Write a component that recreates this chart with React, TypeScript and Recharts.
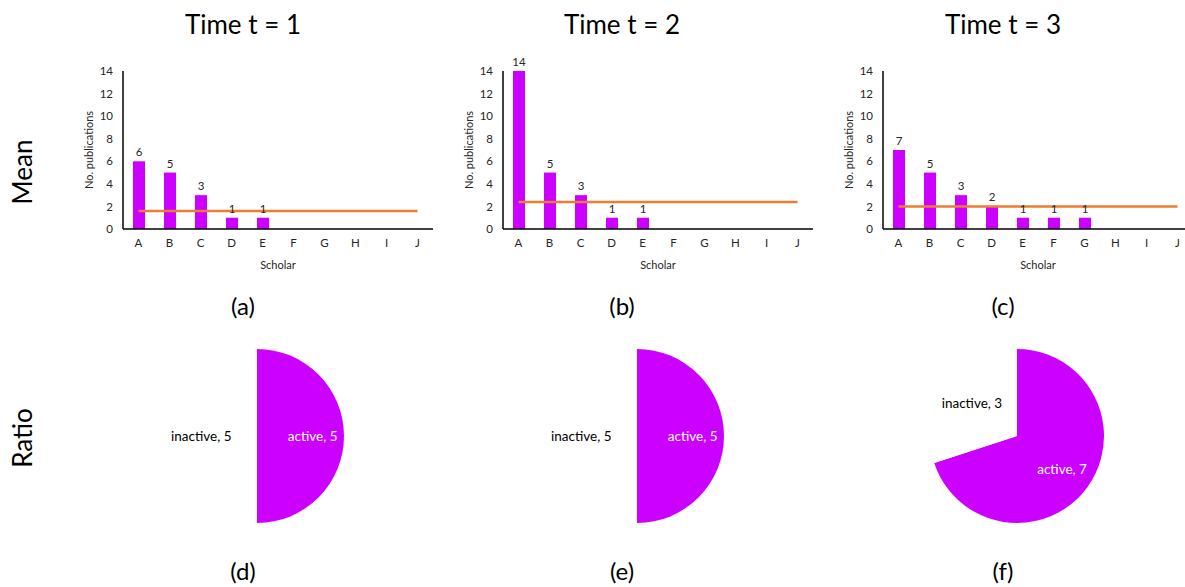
import React from 'react';
import { ComposedChart, Bar, Line, XAxis, YAxis, LabelList, PieChart, Pie, Cell } from 'recharts';

const categories = ['A', 'B', 'C', 'D', 'E', 'F', 'G', 'H', 'I', 'J'];
const pubsT1 = [6, 5, 3, 1, 1, 0, 0, 0, 0, 0];
const pubsT2 = [14, 5, 3, 1, 1, 0, 0, 0, 0, 0];
const pubsT3 = [7, 5, 3, 2, 1, 1, 1, 0, 0, 0];
const meanT1 = 1.6;
const meanT2 = 2.4;
const meanT3 = 2.0;
const yTicks = [0, 2, 4, 6, 8, 10, 12, 14];
const activeCounts = [5, 5, 7];
const inactiveCounts = [5, 5, 3];
const titles = ['Time t = 1', 'Time t = 2', 'Time t = 3'];
const barPanelLabels = ['(a)', '(b)', '(c)'];
const piePanelLabels = ['(d)', '(e)', '(f)'];
const rowLabels = ['Mean', 'Ratio'];

const FONT = 'Lato, "Open Sans", sans-serif';
const PURPLE = '#CC00FF';
const ORANGE = '#ED7D31';
const TEXT = '#262626';

const colCenters = [243, 622, 1003];
const barLefts = [60, 440, 820];
const pieCenters = [257, 637, 1017];

function BarPanel({ values, mean, left, top }: { values: number[]; mean: number; left: number; top: number }) {
  const data = categories.map((c, i) => ({ name: c, pubs: values[i], mean }));
  return (
    <div style={{ position: 'absolute', left, top }}>
      <ComposedChart width={385} height={230} data={data} margin={{ top: 16, right: 12, bottom: 16, left: 0 }}>
        <XAxis
          dataKey="name"
          tickLine={false}
          axisLine={{ stroke: '#000', strokeWidth: 1.5 }}
          tick={{ fontSize: 11.5, fill: TEXT, fontFamily: FONT }}
          tickMargin={4}
          height={40}
          interval={0}
          label={(p: any) => {
            const vb = p.viewBox;
            return (
              <text x={vb.x + vb.width / 2} y={vb.y + 35} textAnchor="middle" dominantBaseline="central" fontSize={11} fill={TEXT} fontFamily={FONT}>
                Scholar
              </text>
            );
          }}
        />
        <YAxis
          domain={[0, 14]}
          ticks={yTicks}
          width={63}
          tickLine={false}
          axisLine={{ stroke: '#000', strokeWidth: 1.5 }}
          tick={{ fontSize: 11.5, fill: TEXT, fontFamily: FONT }}
          tickMargin={4}
          interval={0}
          label={(p: any) => {
            const vb = p.viewBox;
            const x = vb.x + 28;
            const y = vb.y + vb.height / 2;
            return (
              <text x={x} y={y} transform={`rotate(-90 ${x} ${y})`} textAnchor="middle" dominantBaseline="central" fontSize={11} fill={TEXT} fontFamily={FONT}>
                No. publications
              </text>
            );
          }}
        />
        <Bar dataKey="pubs" fill={PURPLE} barSize={12} isAnimationActive={false}>
          <LabelList
            dataKey="pubs"
            position="top"
            formatter={(v: any) => (v ? v : '')}
            style={{ fontSize: 11.5, fill: TEXT, fontFamily: FONT }}
          />
        </Bar>
        <Line dataKey="mean" stroke={ORANGE} strokeWidth={2.5} dot={false} activeDot={false} isAnimationActive={false} />
      </ComposedChart>
    </div>
  );
}

const RADIAN = Math.PI / 180;

function RatioPie({ active, inactive, cx }: { active: number; inactive: number; cx: number }) {
  const data = [
    { name: 'active', value: active },
    { name: 'inactive', value: inactive },
  ];
  const renderLabel = (p: any) => {
    const r = p.outerRadius * 0.64;
    const x = p.cx + r * Math.cos(-p.midAngle * RADIAN);
    const y = p.cy + r * Math.sin(-p.midAngle * RADIAN);
    return (
      <text x={x} y={y} textAnchor="middle" dominantBaseline="central" fontSize={13.5} fontFamily={FONT} fill={p.name === 'active' ? '#fff' : '#000'}>
        {`${p.name}, ${p.value}`}
      </text>
    );
  };
  return (
    <div style={{ position: 'absolute', left: cx - 120, top: 336 }}>
      <PieChart width={240} height={200} margin={{ top: 0, right: 0, bottom: 0, left: 0 }}>
        <Pie
          data={data}
          dataKey="value"
          nameKey="name"
          cx={120}
          cy={100}
          outerRadius={87}
          startAngle={90}
          endAngle={-270}
          stroke="none"
          label={renderLabel}
          labelLine={false}
          isAnimationActive={false}
        >
          <Cell fill={PURPLE} />
          <Cell fill="#ffffff" />
        </Pie>
      </PieChart>
    </div>
  );
}

export default function App() {
  const pubs = [pubsT1, pubsT2, pubsT3];
  const means = [meanT1, meanT2, meanT3];
  return (
    <div style={{ position: 'absolute', left: 0, top: 0, width: 1185, height: 587, overflow: 'hidden', background: '#fff', fontFamily: FONT }}>
      {pubs.map((v, i) => (
        <BarPanel key={i} values={v} mean={means[i]} left={barLefts[i]} top={55} />
      ))}
      {activeCounts.map((a, i) => (
        <RatioPie key={i} active={a} inactive={inactiveCounts[i]} cx={pieCenters[i]} />
      ))}
      <svg width={1185} height={587} style={{ position: 'absolute', left: 0, top: 0, pointerEvents: 'none' }}>
        {titles.map((t, i) => (
          <text key={t} x={colCenters[i]} y={24} textAnchor="middle" dominantBaseline="central" fontSize={26} fontFamily={FONT} fill="#000">
            {t}
          </text>
        ))}
        {barPanelLabels.map((t, i) => (
          <text key={t} x={colCenters[i]} y={305} textAnchor="middle" dominantBaseline="central" fontSize={24} fontFamily={FONT} fill="#000">
            {t}
          </text>
        ))}
        {piePanelLabels.map((t, i) => (
          <text key={t} x={colCenters[i]} y={570} textAnchor="middle" dominantBaseline="central" fontSize={24} fontFamily={FONT} fill="#000">
            {t}
          </text>
        ))}
        <text x={22} y={172} transform="rotate(-90 22 172)" textAnchor="middle" dominantBaseline="central" fontSize={26} fontFamily={FONT} fill="#000">
          {rowLabels[0]}
        </text>
        <text x={22} y={438} transform="rotate(-90 22 438)" textAnchor="middle" dominantBaseline="central" fontSize={26} fontFamily={FONT} fill="#000">
          {rowLabels[1]}
        </text>
      </svg>
    </div>
  );
}
